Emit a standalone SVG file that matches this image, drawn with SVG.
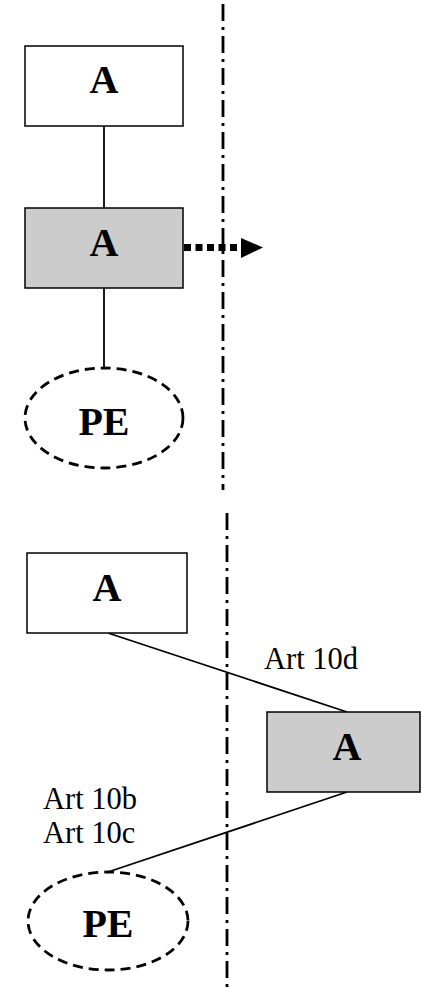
<svg xmlns="http://www.w3.org/2000/svg" width="421" height="987" viewBox="0 0 421 987">
<style>
.box{stroke:#000;stroke-width:1.5}
.w{fill:#fff}
.g{fill:#cccccc}
.pe{fill:#fff;stroke:#000;stroke-width:2.8;stroke-dasharray:10 6}
.lbl{font-family:"Liberation Serif","Times New Roman",serif;font-weight:bold;font-size:40px;text-anchor:middle;fill:#000}
.art{font-family:"Liberation Serif","Times New Roman",serif;font-size:30.5px;fill:#000}
.ln{stroke:#000;stroke-width:1.8;fill:none}
.dd{stroke:#000;stroke-width:2.8;fill:none;stroke-dasharray:17 6 3 6}
</style>
<rect width="421" height="987" fill="#fff"/>
<g id="connectors">
<line class="dd" x1="223" y1="4" x2="223" y2="490"/>
<line class="dd" x1="227" y1="513" x2="227" y2="987"/>
<line class="ln" x1="104" y1="126" x2="104" y2="208"/>
<line class="ln" x1="104" y1="288" x2="104" y2="368"/>
<line x1="184" y1="247.5" x2="241" y2="247.5" stroke="#000" stroke-width="7" stroke-dasharray="7 4.5"/>
<polygon points="241,238 263,247.5 241,258" fill="#000"/>
<line class="ln" x1="108" y1="633" x2="347" y2="712"/>
<line class="ln" x1="347" y1="792" x2="108" y2="872"/>
</g>
<g id="nodeA1">
<rect class="box w" x="25" y="46" width="158" height="80"/>
<text class="lbl" x="104" y="93">A</text>
</g>
<g id="nodeA2">
<rect class="box g" x="25" y="208" width="158" height="80"/>
<text class="lbl" x="104" y="256">A</text>
</g>
<g id="nodePE1">
<ellipse class="pe" cx="104" cy="418" rx="79" ry="50"/>
<text class="lbl" x="104" y="435">PE</text>
</g>
<g id="nodeA3">
<rect class="box w" x="27" y="553" width="160" height="80"/>
<text class="lbl" x="107" y="601">A</text>
</g>
<g id="nodeA4">
<rect class="box g" x="267" y="712" width="153" height="80"/>
<text class="lbl" x="347" y="760">A</text>
</g>
<g id="nodePE2">
<ellipse class="pe" cx="108" cy="921" rx="80" ry="49"/>
<text class="lbl" x="108" y="937">PE</text>
</g>
<g id="labels">
<text class="art" x="264" y="669">Art 10d</text>
<text class="art" x="43" y="809">Art 10b</text>
<text class="art" x="43" y="843">Art 10c</text>
</g>
</svg>
